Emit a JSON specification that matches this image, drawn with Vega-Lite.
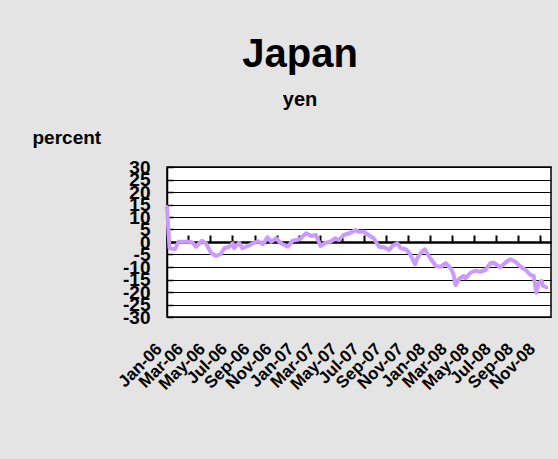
{
  "$schema": "https://vega.github.io/schema/vega-lite/v6.json",
  "autosize": {"type": "none"},
  "width": 384,
  "height": 150,
  "padding": {"left": 167, "top": 167, "right": 7, "bottom": 142},
  "background": "#e4e4e4",
  "title": {
    "text": "Japan",
    "subtitle": "yen",
    "anchor": "middle",
    "frame": "group",
    "dx": -59,
    "font": "Liberation Sans",
    "fontSize": 40,
    "fontWeight": "bold",
    "color": "#000000",
    "subtitleFont": "Liberation Sans",
    "subtitleFontSize": 20,
    "subtitleFontWeight": "bold",
    "subtitleColor": "#000000",
    "subtitlePadding": 15,
    "offset": 18
  },
  "data": {
    "values": [
      {"date": "2006/01/01", "value": 14},
      {"date": "2006/01/08", "value": -2.5},
      {"date": "2006/01/23", "value": -2.9},
      {"date": "2006/02/02", "value": 0.1},
      {"date": "2006/02/15", "value": 0.1},
      {"date": "2006/03/04", "value": 0.1},
      {"date": "2006/03/13", "value": -0.3},
      {"date": "2006/03/22", "value": -1.9},
      {"date": "2006/04/08", "value": 0.5},
      {"date": "2006/04/19", "value": -0.5},
      {"date": "2006/05/03", "value": -4.3},
      {"date": "2006/05/17", "value": -5.6},
      {"date": "2006/05/30", "value": -4.8},
      {"date": "2006/06/09", "value": -2.5},
      {"date": "2006/06/23", "value": -1.9},
      {"date": "2006/07/02", "value": -0.5},
      {"date": "2006/07/06", "value": -2.5},
      {"date": "2006/07/20", "value": -0.3},
      {"date": "2006/07/29", "value": -2.5},
      {"date": "2006/08/13", "value": -1.6},
      {"date": "2006/08/27", "value": -0.5},
      {"date": "2006/09/10", "value": 0.3},
      {"date": "2006/09/24", "value": -0.8},
      {"date": "2006/10/07", "value": 1.9},
      {"date": "2006/10/17", "value": 0.1},
      {"date": "2006/10/30", "value": 1.5},
      {"date": "2006/11/13", "value": -0.5},
      {"date": "2006/12/02", "value": -1.9},
      {"date": "2006/12/15", "value": 0.5},
      {"date": "2007/01/04", "value": 1.1},
      {"date": "2007/01/22", "value": 3.5},
      {"date": "2007/02/05", "value": 2.4},
      {"date": "2007/02/18", "value": 2.8},
      {"date": "2007/03/03", "value": -1.6},
      {"date": "2007/03/17", "value": -0.3},
      {"date": "2007/03/30", "value": 0.1},
      {"date": "2007/04/13", "value": 1.5},
      {"date": "2007/04/23", "value": 0.8},
      {"date": "2007/05/06", "value": 2.8},
      {"date": "2007/05/25", "value": 3.7},
      {"date": "2007/06/08", "value": 4.8},
      {"date": "2007/06/17", "value": 4.1},
      {"date": "2007/07/01", "value": 4.1},
      {"date": "2007/07/14", "value": 2.8},
      {"date": "2007/07/28", "value": 1.5},
      {"date": "2007/08/12", "value": -1.9},
      {"date": "2007/08/26", "value": -2.1},
      {"date": "2007/09/09", "value": -3.2},
      {"date": "2007/09/18", "value": -1.6},
      {"date": "2007/10/02", "value": -0.5},
      {"date": "2007/10/11", "value": -2.5},
      {"date": "2007/10/25", "value": -2.9},
      {"date": "2007/11/05", "value": -4.5},
      {"date": "2007/11/20", "value": -8.9},
      {"date": "2007/11/26", "value": -6.5},
      {"date": "2007/12/05", "value": -4.5},
      {"date": "2007/12/17", "value": -2.9},
      {"date": "2007/12/30", "value": -6.1},
      {"date": "2008/01/17", "value": -9.6},
      {"date": "2008/01/30", "value": -9.9},
      {"date": "2008/02/13", "value": -8.5},
      {"date": "2008/02/27", "value": -10.5},
      {"date": "2008/03/06", "value": -13.2},
      {"date": "2008/03/11", "value": -17.2},
      {"date": "2008/03/20", "value": -14.9},
      {"date": "2008/04/03", "value": -13.6},
      {"date": "2008/04/08", "value": -14.5},
      {"date": "2008/04/22", "value": -12.3},
      {"date": "2008/05/05", "value": -11.5},
      {"date": "2008/05/19", "value": -11.9},
      {"date": "2008/06/02", "value": -11.2},
      {"date": "2008/06/16", "value": -8.5},
      {"date": "2008/06/25", "value": -8.3},
      {"date": "2008/07/13", "value": -10.1},
      {"date": "2008/07/27", "value": -8.3},
      {"date": "2008/08/10", "value": -6.9},
      {"date": "2008/08/24", "value": -7.9},
      {"date": "2008/09/08", "value": -9.9},
      {"date": "2008/09/22", "value": -11.2},
      {"date": "2008/10/05", "value": -13.2},
      {"date": "2008/10/14", "value": -13.6},
      {"date": "2008/10/21", "value": -20.3},
      {"date": "2008/10/28", "value": -16.5},
      {"date": "2008/11/05", "value": -15.5},
      {"date": "2008/11/09", "value": -17.6},
      {"date": "2008/11/18", "value": -18.1}
    ]
  },
  "mark": {"type": "line", "color": "#CC99FF", "strokeWidth": 4, "strokeCap": "round", "strokeJoin": "round"},
  "encoding": {
    "x": {
      "field": "date",
      "type": "temporal",
      "scale": {"domain": [{"year": 2006, "month": 1, "date": 1}, {"year": 2008, "month": 12, "date": 1}], "nice": false},
      "axis": {
        "title": null,
        "orient": "bottom",
        "offset": -75,
        "tickCount": {"interval": "month", "step": 2},
        "format": "%b-%y",
        "grid": false,
        "domainColor": "#000000",
        "domainWidth": 2.5,
        "ticks": true,
        "tickColor": "#000000",
        "tickWidth": 2,
        "tickSize": -7,
        "labelAngle": -45,
        "labelAlign": "right",
        "labelBaseline": "middle",
        "labelPadding": 111,
        "labelOffset": -8,
        "labelFont": "Liberation Sans",
        "labelFontSize": 17,
        "labelFontWeight": "bold",
        "labelColor": "#000000",
        "labelOverlap": false,
        "labelBound": false,
        "labelFlush": false
      }
    },
    "y": {
      "field": "value",
      "type": "quantitative",
      "scale": {"domain": [-30, 30], "nice": false, "zero": false},
      "axis": {
        "title": "percent",
        "titleAngle": 0,
        "titleAlign": "left",
        "titleBaseline": "alphabetic",
        "titleX": -135,
        "titleY": -24,
        "titleFont": "Liberation Sans",
        "titleFontSize": 19,
        "titleFontWeight": "bold",
        "titleColor": "#000000",
        "values": [-30, -25, -20, -15, -10, -5, 0, 5, 10, 15, 20, 25, 30],
        "labelExpr": "'' + datum.value",
        "grid": true,
        "gridColor": "#000000",
        "gridWidth": 1,
        "domainColor": "#000000",
        "domainWidth": 1.5,
        "tickColor": "#000000",
        "tickWidth": 1.5,
        "tickSize": -6,
        "labelPadding": 23,
        "labelFont": "Liberation Sans Narrow, Arial Narrow, Liberation Sans",
        "labelFontSize": 19,
        "labelFontWeight": "bold",
        "labelColor": "#000000",
        "labelOverlap": false,
        "labelBound": false,
        "labelFlush": false
      }
    }
  },
  "config": {
    "view": {"fill": "#ffffff", "stroke": "#000000", "strokeWidth": 1.5}
  }
}
